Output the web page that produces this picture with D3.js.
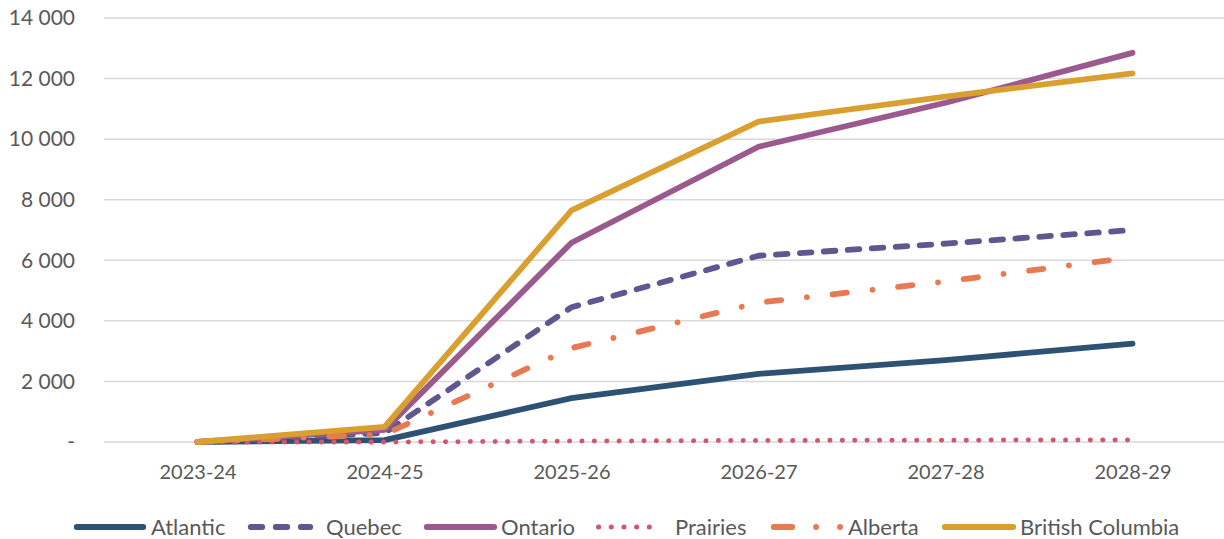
<!DOCTYPE html>
<html>
<head>
<meta charset="utf-8">
<script src="https://cdn.jsdelivr.net/npm/d3@7"></script>
<style>
  html, body { margin: 0; padding: 0; background: #fff; }
  svg { display: block; font-family: Lato, "Open Sans", sans-serif; }
</style>
</head>
<body>
<svg id="chart" width="1224" height="539"></svg>
<script>
// Fiscal years on the horizontal axis
const years = ["2023-24", "2024-25", "2025-26", "2026-27", "2027-28", "2028-29"];

// Projected counts by region
const atlantic = [0, 60, 1450, 2250, 2700, 3250];
const quebec   = [0, 300, 4450, 6150, 6550, 7000];
const ontario  = [0, 400, 6580, 9750, 11200, 12850];
const prairies = [0, 0, 30, 50, 60, 70];
const alberta  = [0, 250, 3100, 4600, 5300, 6100];
const britishColumbia = [0, 500, 7650, 10580, 11400, 12170];

const regionNames = ["Atlantic", "Quebec", "Ontario", "Prairies", "Alberta", "British Columbia"];
const yTicks = [0, 2000, 4000, 6000, 8000, 10000, 12000, 14000];

const LW = 5.8;
const series = [
  { name: regionNames[0], values: atlantic, color: "#2d5274", dash: null, legendDash: null },
  { name: regionNames[1], values: quebec, color: "#5f5790", dash: "11.5 12.5", legendDash: "11.5 13.5" },
  { name: regionNames[2], values: ontario, color: "#9b5a8e", dash: null, legendDash: null },
  { name: regionNames[3], values: prairies, color: "#d3566f", dash: "0.1 12.3", legendDash: "0.1 12.6", width: 5 },
  { name: regionNames[4], values: alberta, color: "#e77a52", dash: "14.5 25.7 0.1 25.7", legendDash: "18.5 23.75 0.1 23.9 0.1 100" },
  { name: regionNames[5], values: britishColumbia, color: "#d9a030", dash: null, legendDash: null }
];

const svg = d3.select("#chart");
const plot = { left: 104, right: 1226, top: 18, bottom: 442 };

const x = d3.scalePoint().domain(years).range([plot.left, plot.right]).padding(0.5);
const y = d3.scaleLinear().domain([0, 14000]).range([plot.bottom, plot.top]);

const fmt = v => v === 0 ? "-" : d3.format(",")(v).replace(/,/g, " ");

// Horizontal gridlines
svg.append("g")
  .selectAll("line")
  .data(yTicks)
  .join("line")
  .attr("x1", plot.left).attr("x2", 1224)
  .attr("y1", d => y(d)).attr("y2", d => y(d))
  .attr("stroke", "#d9d9d9").attr("stroke-width", 1.5);

// Y axis labels
const yAxis = d3.axisLeft(y).tickValues(yTicks).tickFormat(fmt).tickSize(0).tickPadding(0);
svg.append("g")
  .attr("transform", `translate(75,0)`)
  .call(yAxis)
  .call(g => g.select(".domain").remove())
  .call(g => g.selectAll("text")
    .attr("fill", "#595959").style("font-size", "21px").style("font-family", "Lato, sans-serif"));

// X axis labels
const xAxis = d3.axisBottom(x).tickSize(0).tickPadding(0);
svg.append("g")
  .attr("transform", `translate(0,465)`)
  .call(xAxis)
  .call(g => g.select(".domain").remove())
  .call(g => g.selectAll("text")
    .attr("fill", "#595959").style("font-size", "20px").style("font-family", "Lato, sans-serif"));

// Series lines
const line = d3.line().x((d, i) => x(years[i])).y(d => y(d));
svg.append("g")
  .selectAll("path")
  .data(series)
  .join("path")
  .attr("d", d => line(d.values))
  .attr("fill", "none")
  .attr("stroke", d => d.color)
  .attr("stroke-width", d => d.width || LW)
  .attr("stroke-linecap", "round")
  .attr("stroke-linejoin", "round")
  .attr("stroke-dasharray", d => d.dash);

// Legend
const legendItems = [
  { s: series[0], x0: 76.75, x1: 143.25, tx: 151 },
  { s: series[1], x0: 250.75, x1: 310.25, tx: 326 },
  { s: series[2], x0: 426.75, x1: 494.25, tx: 501 },
  { s: series[3], x0: 598.5, x1: 661.6, tx: 675 },
  { s: series[4], x0: 773.75, x1: 840.2, tx: 848 },
  { s: series[5], x0: 944.75, x1: 1013.25, tx: 1020 }
];
const legendY = 527;
const lg = svg.append("g");
legendItems.forEach(it => {
  lg.append("line")
    .attr("x1", it.x0).attr("x2", it.x1)
    .attr("y1", legendY).attr("y2", legendY)
    .attr("stroke", it.s.color)
    .attr("stroke-width", it.s.width || LW)
    .attr("stroke-linecap", "round")
    .attr("stroke-dasharray", it.s.legendDash);
  lg.append("text")
    .attr("x", it.tx).attr("y", legendY)
    .attr("dy", "0.35em")
    .attr("fill", "#595959")
    .style("font-size", "22px")
    .text(it.s.name);
});
</script>
</body>
</html>
